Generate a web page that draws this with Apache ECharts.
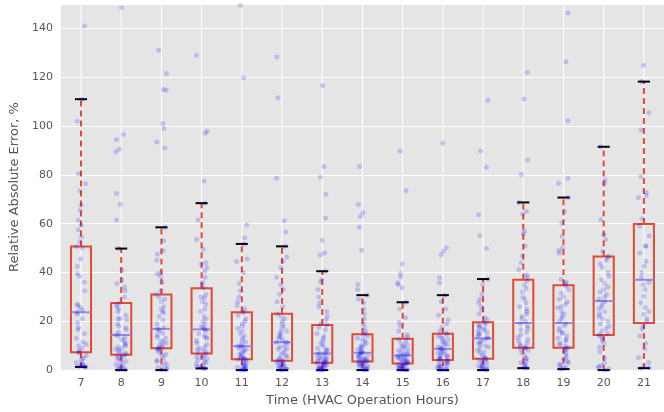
<!DOCTYPE html>
<html>
<head>
<meta charset="utf-8">
<script src="https://cdn.jsdelivr.net/npm/echarts@6/dist/echarts.min.js"></script>
<style>html,body{margin:0;padding:0;background:#fff}#c{width:664px;height:412px}</style>
</head>
<body>
<div id="c"></div>
<script>
const categories = ['7','8','9','10','11','12','13','14','15','16','17','18','19','20','21'];
const whiskerLow = [1.3, 0, 0, 0.7, 0, 0, 0, 0, 0, 0, 0, 0.8, 0.4, 0, 0.8];
const q1 =         [7.3, 6.3, 9.0, 6.8, 4.4, 3.8, 3.0, 3.5, 2.7, 4.1, 4.6, 9.2, 9.2, 14.4, 19.3];
const medians =    [23.7, 14.4, 16.9, 16.7, 9.8, 11.4, 6.8, 7.1, 6.0, 8.7, 13.0, 19.3, 19.3, 28.3, 37.0];
const q3 =         [50.6, 27.5, 31.0, 33.5, 23.7, 23.1, 18.5, 14.7, 12.8, 14.9, 19.6, 37.0, 34.8, 46.5, 59.9];
const whiskerHigh = [111, 49.8, 58.5, 68.4, 51.7, 50.7, 40.5, 30.7, 27.8, 30.7, 37.3, 68.7, 70.7, 91.5, 118.2];
const yTicks = [0, 20, 40, 60, 80, 100, 120, 140];
const yMin = 0, yMax = 150;

const pts7 = [141,111,102,80.5,76.5,73.5,67.5,65.5,61.5,59.5,57.5,54.5,52.5,50.5,50,45.5,42.5,39.5,38.5,36,32.5,27,26.5,25.5,24.5,23.7,23,21,19.5,17.5,16.5,15,13,11.5,10.5,10,9,8,7.5,7,6,5,4.5,3.5,3,2.5,2,1.8,1.5,1.5,1.3,1.4];
const pts8 = [148.5,96.5,94.5,90.5,89.5,72.5,68,61.5,49.8,41,37,35.5,34,32.5,30,27.5,27,26,25,24,22.5,21,21,20.5,19,18,17.5,16.5,15.5,14.5,14,13.5,12.5,12,11,10.5,10,9.5,9,8.5,8,7.5,7,6.5,6.3,6,5.5,5,4.5,4,3.5,3,2.5,2,1.5,1,0.8,0.5,0.2,0];
const pts9 = [131,121.5,115,114.8,101,99,93.5,91,58.5,53,49,47.5,45,40,39.5,38.5,36,32.5,31,30,29,28,26,25,24,23.5,22,20.5,19,17.5,16.9,16.5,16,15,14.5,13.5,13,12,11.5,11,10.5,10,9.5,9,9,8.5,8,7,6.5,6,5,4,3.5,3,2,1.5,1,0.5,0.2,0];
const pts10 = [129,98,97,77.5,68.4,61.5,53.5,49.5,44,43.5,42,40.5,38,36,35,33.5,31,30,29.5,28,27,25,24,22,21,20,19,18,17.5,17,16.7,16,15,14,13.5,13,12,11,10.5,9.5,9,8.5,8,7.5,7,6.5,6,5.5,5,4.5,4,3.5,3,2.5,2,1.5,1.2,1,0.8,0.7];
const pts11 = [149.5,119.7,59.6,54.2,51.7,45.5,44.5,40,35.5,32.4,30,28,26.5,25,24,23.5,22.5,21,20,19,18,17,16,15,14,13,12,11.5,10.5,10,9.8,9.5,9,8.5,8,7.5,7,6.5,6,5.5,5,5,4.8,4.5,4.4,4,3.5,3,2.5,2,2,1.5,1.2,1,0.8,0.5,0.3,0.2,0.1,0];
const pts12 = [128.3,111.6,78.6,61.2,56.6,50.7,46.3,44.5,42,38,35,33,31,28,26,23,22,21,20,19,18,17,16,15.5,15,14,13.5,13,12,11.5,11.4,11,10,9.5,9,8.5,8,7,6.5,6,5.5,5,4.5,4,3.8,3.5,3,3,2.5,2,2,1.5,1.5,1,1,0.5,0.5,0.3,0.1,0];
const pts13 = [116.6,83.4,79,72.1,62.3,53.2,48,47.3,40.5,37,36,33,30,27.5,26,24,22,20.5,19,18.5,17.5,16.5,15,14,13,12,11,10.5,9.5,9,8.5,8,7.5,7,6.8,6.5,6,5.5,5,5,4.5,4.5,4,4,3.5,3.5,3.2,3,3,2.8,2.5,2.2,2,1.8,1.5,1.2,1,0.8,0.6,0.4,0.3,0.2,0.1,0];
const pts14 = [83.4,67.8,64.5,62.9,58.5,49.1,35.1,33,30.7,29,27.6,25,23,21,19,17.5,16,15,14.5,14,13,12.5,12,11,10.5,10,9.5,9,8.5,8,7.5,7.2,7,6.8,6.5,6,6,5.5,5,5,4.5,4.5,4,4,3.8,3.5,3.5,3.2,3,2.8,2.5,2.2,2,1.8,1.5,1.2,1,0.8,0.5,0.3,0.1,0];
const pts15 = [89.8,73.6,43.5,39.6,38.1,35.8,35,33.7,27.8,25,21.5,19.5,18.1,16,14.5,13.5,12.5,12,11,10.5,10,9.5,9,8.5,8,7.5,7,6.8,6.5,6.2,6,5.8,5.5,5,5,4.5,4.5,4,4,3.5,3.5,3.2,3,2.8,2.7,2.5,2.3,2,2,1.8,1.5,1.3,1,0.8,0.6,0.4,0.3,0.2,0.1,0];
const pts16 = [92.9,50.1,48.7,47.3,37.8,35.8,30.7,28,25,22.5,20.5,19,17.5,16,15.2,14.5,14,13.5,13,12.5,12,11.5,11,10.5,10,9.5,9,8.8,8.5,8,7.5,7,7,6.5,6,6,5.5,5,5,4.5,4.2,4.1,3.8,3.5,3,2.8,2.5,2,1.8,1.5,1.2,1,0.8,0.5,0.3,0.1,0];
const pts17 = [110.6,89.9,83.1,63.7,55.2,49.8,37.3,35.1,31,29,27.5,26,24.5,23,21.5,20.5,19.5,19,18.5,18,17.5,17,16.5,16,15.5,15,14.5,14,13.5,13,12.5,12,11.5,11,10.5,10,9.5,9,8,7.5,7,6,5.5,5,4.6,4.2,4,3.5,3,2.5,2,1.8,1.5,1.2,1,0.7,0.5,0.3,0];
const pts18 = [122,111.1,86.1,80.1,68.7,65,64,56.9,56,51,46.7,44,41.2,39,38,36.5,35,33.5,32,30,29,27.5,26,25,24,23,22,21,20,19,18,17,16.5,15.5,14.5,13.5,12.5,12,11,10.5,10,9.5,9.2,9,8.5,8,7,6,5,4.5,3.5,3,2.5,2,1.5,1,0.8];
const pts19 = [146.3,126.3,102.2,78.6,76.6,70.7,65,60.3,54.8,50,49,48,37.1,36,35.5,34.5,33,31.5,30,29,28,27,26,25.5,24,23,22,21,20,19,18,17,16,15.5,15,14,13,12.5,12,11,10.5,10,9.3,9,8.5,8,7,6,5,4.5,3.5,3,2.5,2,1.5,1,0.5,0.4];
const pts20 = [91.5,77.9,76.6,61.6,55.5,53.5,48.7,46.7,46,45,43.5,42,40,38.5,37,35.5,34,33,32,31,30,29,28,27,26,25,24,23,22,21,20,19,18,17,16,15,14.5,14,13,12,11,9.5,7.5,5,3,2,1.5,1,0.5,0];
const pts21 = [124.9,118.2,105.4,98.4,79.3,72.8,71.5,70.7,62,59,55,50.7,51,48,44.6,42.6,40,38,36,35,33,30.3,27.6,25.6,24,22.9,21,20,18,16.7,14,11,8.6,5.2,3.1,1.5,1,0.8];
const pointsByCategory = [pts7,pts8,pts9,pts10,pts11,pts12,pts13,pts14,pts15,pts16,pts17,pts18,pts19,pts20,pts21];

const boxData = categories.map((c, i) => [i, whiskerLow[i], q1[i], medians[i], q3[i], whiskerHigh[i]]);
const gridLineData = categories.map((c, i) => [i, yMin, yMax]);
const scatterData = [];
pointsByCategory.forEach((arr, i) => arr.forEach(v => scatterData.push([i, v])));

const BOX_RED = '#E24A33';
const MED = '#988ED5';

function renderGridLine(params, api) {
  const x = api.value(0);
  const p0 = api.coord([x, api.value(1)]), p1 = api.coord([x, api.value(2)]);
  return { type: 'line', shape: { x1: p0[0], y1: p0[1], x2: p1[0], y2: p1[1] }, style: { stroke: '#ffffff', lineWidth: 1 } };
}

function renderBox(params, api) {
  const x = api.value(0);
  const lo = api.value(1), a = api.value(2), m = api.value(3), b = api.value(4), hi = api.value(5);
  const band = api.size([1, 0])[0];
  const hw = band * 0.25, cw = band * 0.15;
  const pLo = api.coord([x, lo]), pA = api.coord([x, a]), pM = api.coord([x, m]), pB = api.coord([x, b]), pHi = api.coord([x, hi]);
  const cx = pM[0];
  const dash = { stroke: BOX_RED, lineWidth: 2, lineDash: [6, 4] };
  return {
    type: 'group',
    children: [
      { type: 'line', shape: { x1: cx, y1: pB[1], x2: cx, y2: pHi[1] }, style: dash },
      { type: 'line', shape: { x1: cx, y1: pA[1], x2: cx, y2: pLo[1] }, style: dash },
      { type: 'rect', shape: { x: cx - hw, y: pB[1], width: hw * 2, height: pA[1] - pB[1] }, style: { fill: 'none', stroke: BOX_RED, lineWidth: 2 } },
      { type: 'line', shape: { x1: cx - hw, y1: pM[1], x2: cx + hw, y2: pM[1] }, style: { stroke: MED, lineWidth: 2 } },
      { type: 'line', shape: { x1: cx - cw, y1: pHi[1], x2: cx + cw, y2: pHi[1] }, style: { stroke: '#000', lineWidth: 2 } },
      { type: 'line', shape: { x1: cx - cw, y1: pLo[1], x2: cx + cw, y2: pLo[1] }, style: { stroke: '#000', lineWidth: 2 } }
    ]
  };
}

const chart = echarts.init(document.getElementById('c'), null, { renderer: 'canvas' });
chart.setOption({
  animation: false,
  backgroundColor: '#ffffff',
  grid: { left: 59, top: 4, width: 613, height: 367, show: true, backgroundColor: '#E5E5E5', borderWidth: 0 },
  xAxis: {
    type: 'category',
    data: categories,
    boundaryGap: true,
    jitter: 11,
    jitterOverlap: true,
    name: 'Time (HVAC Operation Hours)',
    nameLocation: 'middle',
    nameGap: 22,
    nameTextStyle: { color: '#555555', fontSize: 13, fontFamily: 'DejaVu Sans' },
    axisLine: { show: false },
    axisTick: { show: false },
    axisLabel: { color: '#555555', fontSize: 11, fontFamily: 'DejaVu Sans', margin: 8 },
    splitLine: { show: false }
  },
  yAxis: {
    type: 'value',
    min: yMin,
    max: yMax,
    interval: 20,
    name: 'Relative Absolute Error, %',
    nameLocation: 'middle',
    nameGap: 29,
    nameTextStyle: { color: '#555555', fontSize: 13, fontFamily: 'DejaVu Sans' },
    axisLine: { show: false },
    axisTick: { show: false },
    axisLabel: { color: '#555555', fontSize: 11, fontFamily: 'DejaVu Sans', margin: 8, showMaxLabel: false,
      formatter: v => (yTicks.indexOf(v) >= 0 ? String(v) : '') },
    splitLine: { show: true, lineStyle: { color: '#ffffff', width: 1 } }
  },
  series: [
    {
      type: 'custom',
      renderItem: renderGridLine,
      data: gridLineData,
      encode: { x: 0, y: [1, 2] },
      z: 1,
      silent: true
    },
    {
      type: 'custom',
      renderItem: renderBox,
      data: boxData,
      encode: { x: 0, y: [1, 2, 3, 4, 5] },
      z: 2,
      silent: true
    },
    {
      type: 'scatter',
      data: scatterData,
      symbolSize: 5,
      itemStyle: { color: 'rgba(0,0,255,0.22)' },
      z: 3,
      silent: true
    }
  ]
});
</script>
</body>
</html>
